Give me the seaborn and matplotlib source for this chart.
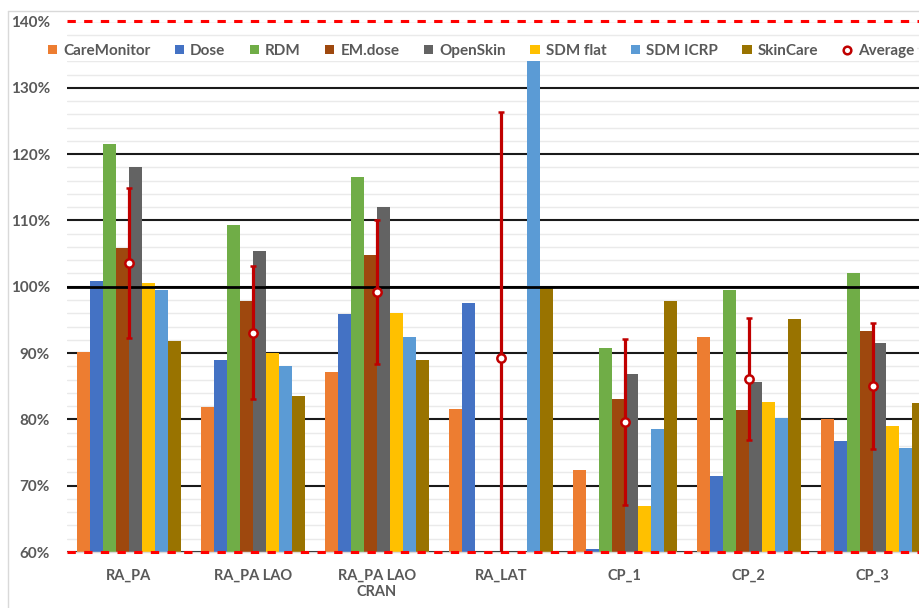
import numpy as np
import pandas as pd
import matplotlib
matplotlib.use("Agg")
import matplotlib.pyplot as plt
from matplotlib.patches import Patch
from matplotlib.lines import Line2D
import seaborn as sns

nan = np.nan

# Irradiation geometries (x categories)
categories = ["RA_PA", "RA_PA LAO", "RA_PA LAO\nCRAN", "RA_LAT", "CP_1", "CP_2", "CP_3"]

# Software series (hue)
software = ["CareMonitor", "Dose", "RDM", "EM.dose", "OpenSkin",
            "SDM flat", "SDM ICRP", "SkinCare"]

# Ratio of calculated to measured peak skin dose (%), one value per category
care_monitor = [90.1, 81.8, 87.1, 81.5, 72.3, 92.4, 80.0]
dose         = [100.8, 89.0, 95.9, 97.5, 60.5, 71.5, 76.7]
rdm          = [121.6, 109.3, 116.6, nan, 90.8, 99.5, 102.1]
em_dose      = [105.8, 97.8, 104.8, nan, 83.1, 81.4, 93.3]
open_skin    = [118.0, 105.4, 112.1, nan, 86.8, 85.7, 91.5]
sdm_flat     = [100.5, 90.0, 96.0, nan, 67.0, 82.6, 79.0]
sdm_icrp     = [99.5, 88.1, 92.4, 134.8, 78.5, 80.2, 75.7]
skin_care    = [91.8, 83.5, 88.9, 100.0, 97.9, 95.2, 82.4]

# Average over software and its standard deviation
average = [103.6, 93.1, 99.2, 89.2, 79.6, 86.1, 85.1]
std_dev = [11.3, 10.1, 10.9, 37.1, 12.5, 9.2, 9.5]

# Acceptance limits
upper_limit = 140
lower_limit = 60

y_ticks = list(range(60, 141, 10))
y_tick_labels = [f"{v}%" for v in y_ticks]

series = [care_monitor, dose, rdm, em_dose, open_skin, sdm_flat, sdm_icrp, skin_care]
colors = ["#ED7D31", "#4472C4", "#70AD47", "#9E480E", "#636363",
          "#FFC000", "#5B9BD5", "#997300"]

df = pd.DataFrame(
    [(cat, sw, vals[i]) for sw, vals in zip(software, series)
     for i, cat in enumerate(categories)],
    columns=["category", "software", "value"],
)
df["category"] = pd.Categorical(df["category"], categories=categories, ordered=True)
df["software"] = pd.Categorical(df["software"], categories=software, ordered=True)

sns.set_theme(style="white")
plt.rcParams["font.family"] = ["Lato", "DejaVu Sans"]
plt.rcParams["lines.scale_dashes"] = False

text_color = "#595959"
avg_color = "#C00000"

fig = plt.figure(figsize=(9.2, 6.08), dpi=100)
ax = fig.add_axes([66.7 / 920, 56 / 608, 868 / 920, 530.5 / 608])

sns.barplot(data=df, x="category", y="value", hue="software",
            palette=colors, hue_order=software, order=categories,
            width=0.84, linewidth=0, errorbar=None, legend=False,
            saturation=1, ax=ax)

ax.set_xlim(-0.5, 6.5)
ax.set_ylim(lower_limit, upper_limit)
ax.set_axisbelow(True)

ax.set_yticks(y_ticks)
ax.set_yticklabels(y_tick_labels)
ax.set_yticks(np.arange(60, 141, 2), minor=True)
ax.grid(which="minor", axis="y", color="#EAEAEA", lw=1.0)
ax.grid(which="major", axis="y", color="#1A1A1A", lw=1.5)
ax.tick_params(axis="y", which="both", length=0, pad=12,
               labelsize=11, labelcolor=text_color)
ax.tick_params(axis="x", length=0, pad=12, labelsize=10.5, labelcolor=text_color)
for lab in ax.get_xticklabels() + ax.get_yticklabels():
    lab.set_fontweight("bold")
ax.set_xlabel("")
ax.set_ylabel("")

for side in ["top", "right", "left"]:
    ax.spines[side].set_visible(False)
ax.spines["bottom"].set_color("#D9D9D9")
ax.spines["bottom"].set_linewidth(1.0)

# 100 % reference line over the bars
ax.axhline(100, color="black", lw=2.0, zorder=5)

# Limit lines
for lim in (upper_limit, lower_limit):
    ax.axhline(lim, color="#FF0000", lw=2.2, dashes=(6, 6), zorder=6, clip_on=False)

# Average with standard deviation
ax.errorbar(np.arange(len(categories)), average, yerr=std_dev, fmt="o",
            color=avg_color, ecolor=avg_color, elinewidth=2.3, capsize=2.5,
            capthick=2.3, mfc="white", mec=avg_color, mew=1.8, ms=6, zorder=7)

# Legend
handles = [Patch(facecolor=c, edgecolor="none") for c in colors]
handles.append(Line2D([], [], marker="o", ls="none", mfc="white",
                      mec=avg_color, mew=1.8, ms=5.5))
labels = software + ["Average"]
leg = fig.legend(handles, labels, loc="center",
                 bbox_to_anchor=(481 / 920, 1 - 51 / 608), ncol=9,
                 frameon=True, facecolor="white", edgecolor="none", framealpha=1,
                 prop={"weight": "bold", "size": 11},
                 handlelength=0.6, handleheight=0.6, handletextpad=0.4,
                 columnspacing=1.6, borderpad=0.2, labelcolor=text_color)

# Chart area border
fig.add_artist(Line2D([8 / 920, 8 / 920], [0, 1 - 11 / 608],
                      transform=fig.transFigure, color="#D9D9D9", lw=1))
fig.add_artist(Line2D([8 / 920, 1], [1 - 11 / 608, 1 - 11 / 608],
                      transform=fig.transFigure, color="#D9D9D9", lw=1))

fig.savefig("out.png", dpi=100)
